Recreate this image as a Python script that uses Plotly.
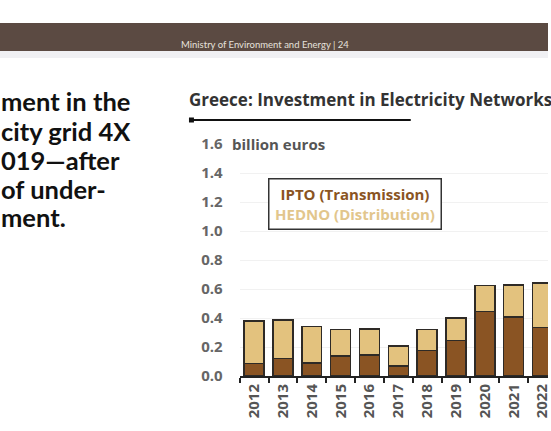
import plotly.graph_objects as go

# values, billion euros
years = ["2012", "2013", "2014", "2015", "2016", "2017",
         "2018", "2019", "2020", "2021", "2022"]
ipto = [0.085, 0.12, 0.088, 0.138, 0.145, 0.069, 0.175, 0.246, 0.446, 0.407, 0.333]
hedno = [0.295, 0.266, 0.252, 0.182, 0.18, 0.138, 0.145, 0.154, 0.177, 0.221, 0.31]
y_ticks = [0.0, 0.2, 0.4, 0.6, 0.8, 1.0, 1.2, 1.4, 1.6]
left_lines = ["ment in the", "city grid 4X", "019\u2014after", "of under-", "ment."]
left_line_y = [101, 131, 160, 189, 217]

W, H = 551, 431
X0, Y0, YTOP = 241, 376, 144  # plot area in pixels


def px(x):
    return x / W


def py(y):
    return (Y0 - y) / (Y0 - YTOP)


BROWN = "#8a5423"
TAN = "#e3c27e"
EDGE = "#2e2a26"
CHART_FONT = "Open Sans"

fig = go.Figure()
fig.add_trace(go.Bar(x=years, y=ipto, name="IPTO (Transmission)",
                     marker=dict(color=BROWN, line=dict(color=EDGE, width=1.5))))
fig.add_trace(go.Bar(x=years, y=hedno, name="HEDNO (Distribution)",
                     marker=dict(color=TAN, line=dict(color=EDGE, width=1.5))))

fig.update_layout(
    width=W, height=H,
    barmode="stack", bargap=0.31,
    showlegend=False,
    paper_bgcolor="white", plot_bgcolor="white",
    margin=dict(l=0, r=0, t=YTOP, b=H - Y0),
    font=dict(family=CHART_FONT),
)
fig.update_xaxes(
    domain=[px(X0), 1], range=[-0.5, (W - X0) / 29 - 0.5],
    showline=True, linecolor="#222", linewidth=2,
    ticks="outside", tickson="boundaries", ticklen=5, tickwidth=2, tickcolor="#222",
    tickangle=-90, showgrid=False,
    tickfont=dict(family=CHART_FONT, size=15, color="#555", weight="bold"),
)
fig.update_yaxes(
    range=[0, 1.6], tickvals=y_ticks, ticktext=[f"{v:.1f}" for v in y_ticks],
    showline=False, zeroline=False, ticks="",
    showgrid=True, gridcolor="#f1f1f1", gridwidth=1,
    ticklabelstandoff=16,
    tickfont=dict(family=CHART_FONT, size=15, color="#666", weight="bold"),
)

# top banner of the slide
fig.add_shape(type="rect", xref="paper", yref="paper",
              x0=0, x1=1, y0=py(51), y1=py(23),
              fillcolor="#5b4a42", line_width=0, layer="below")
fig.add_shape(type="rect", xref="paper", yref="paper",
              x0=0, x1=1, y0=py(58), y1=py(51),
              fillcolor="#f0f0f3", line_width=0, layer="below")
fig.add_annotation(text="Ministry of Environment and Energy | 24",
                   xref="paper", yref="paper", x=px(266), y=py(37),
                   showarrow=False, font=dict(family="Lato", size=9.5, color="#e6e1dc"))

# headline text on the left (cut by the crop)
for line, y in zip(left_lines, left_line_y):
    fig.add_annotation(text=line, xref="paper", yref="paper", x=px(-1), y=py(y),
                       xanchor="left", yanchor="middle", showarrow=False,
                       font=dict(family="Lato", size=25.5, color="#111", weight="bold"))

# chart title and rule
fig.add_annotation(text="Greece: Investment in Electricity Networks",
                   xref="paper", yref="paper", x=px(188), y=py(100),
                   xanchor="left", yanchor="middle", showarrow=False,
                   font=dict(family=CHART_FONT, size=17, color="#333", weight="bold"))
fig.add_shape(type="line", xref="paper", yref="paper",
              x0=px(192), x1=px(413), y0=py(120), y1=py(120),
              line=dict(color="#111", width=2))
fig.add_shape(type="rect", xref="paper", yref="paper",
              x0=px(190), x1=px(195), y0=py(122.5), y1=py(117.5),
              fillcolor="#111", line_width=0)

# unit label
fig.add_annotation(text="billion euros", xref="paper", yref="paper",
                   x=px(231), y=py(144), xanchor="left", yanchor="middle",
                   showarrow=False, bgcolor="white",
                   font=dict(family=CHART_FONT, size=15, color="#555", weight="bold"))

# legend box
fig.add_annotation(
    text=(f"<span style='color:{BROWN}'>IPTO (Transmission)</span><br>"
          f"<span style='color:#e2c68c'>HEDNO (Distribution)</span>"),
    xref="paper", yref="paper", x=px(356.5), y=py(203.5),
    xanchor="center", yanchor="middle", align="center", showarrow=False,
    width=163, height=41,
    bgcolor="white", bordercolor="#333", borderwidth=1.5, borderpad=4,
    font=dict(family=CHART_FONT, size=15, weight="bold"),
)

fig.write_html("out.html",
               config={"displayModeBar": False},
               post_script="document.body.style.margin='0';"
                           "document.body.style.overflow='hidden';")
